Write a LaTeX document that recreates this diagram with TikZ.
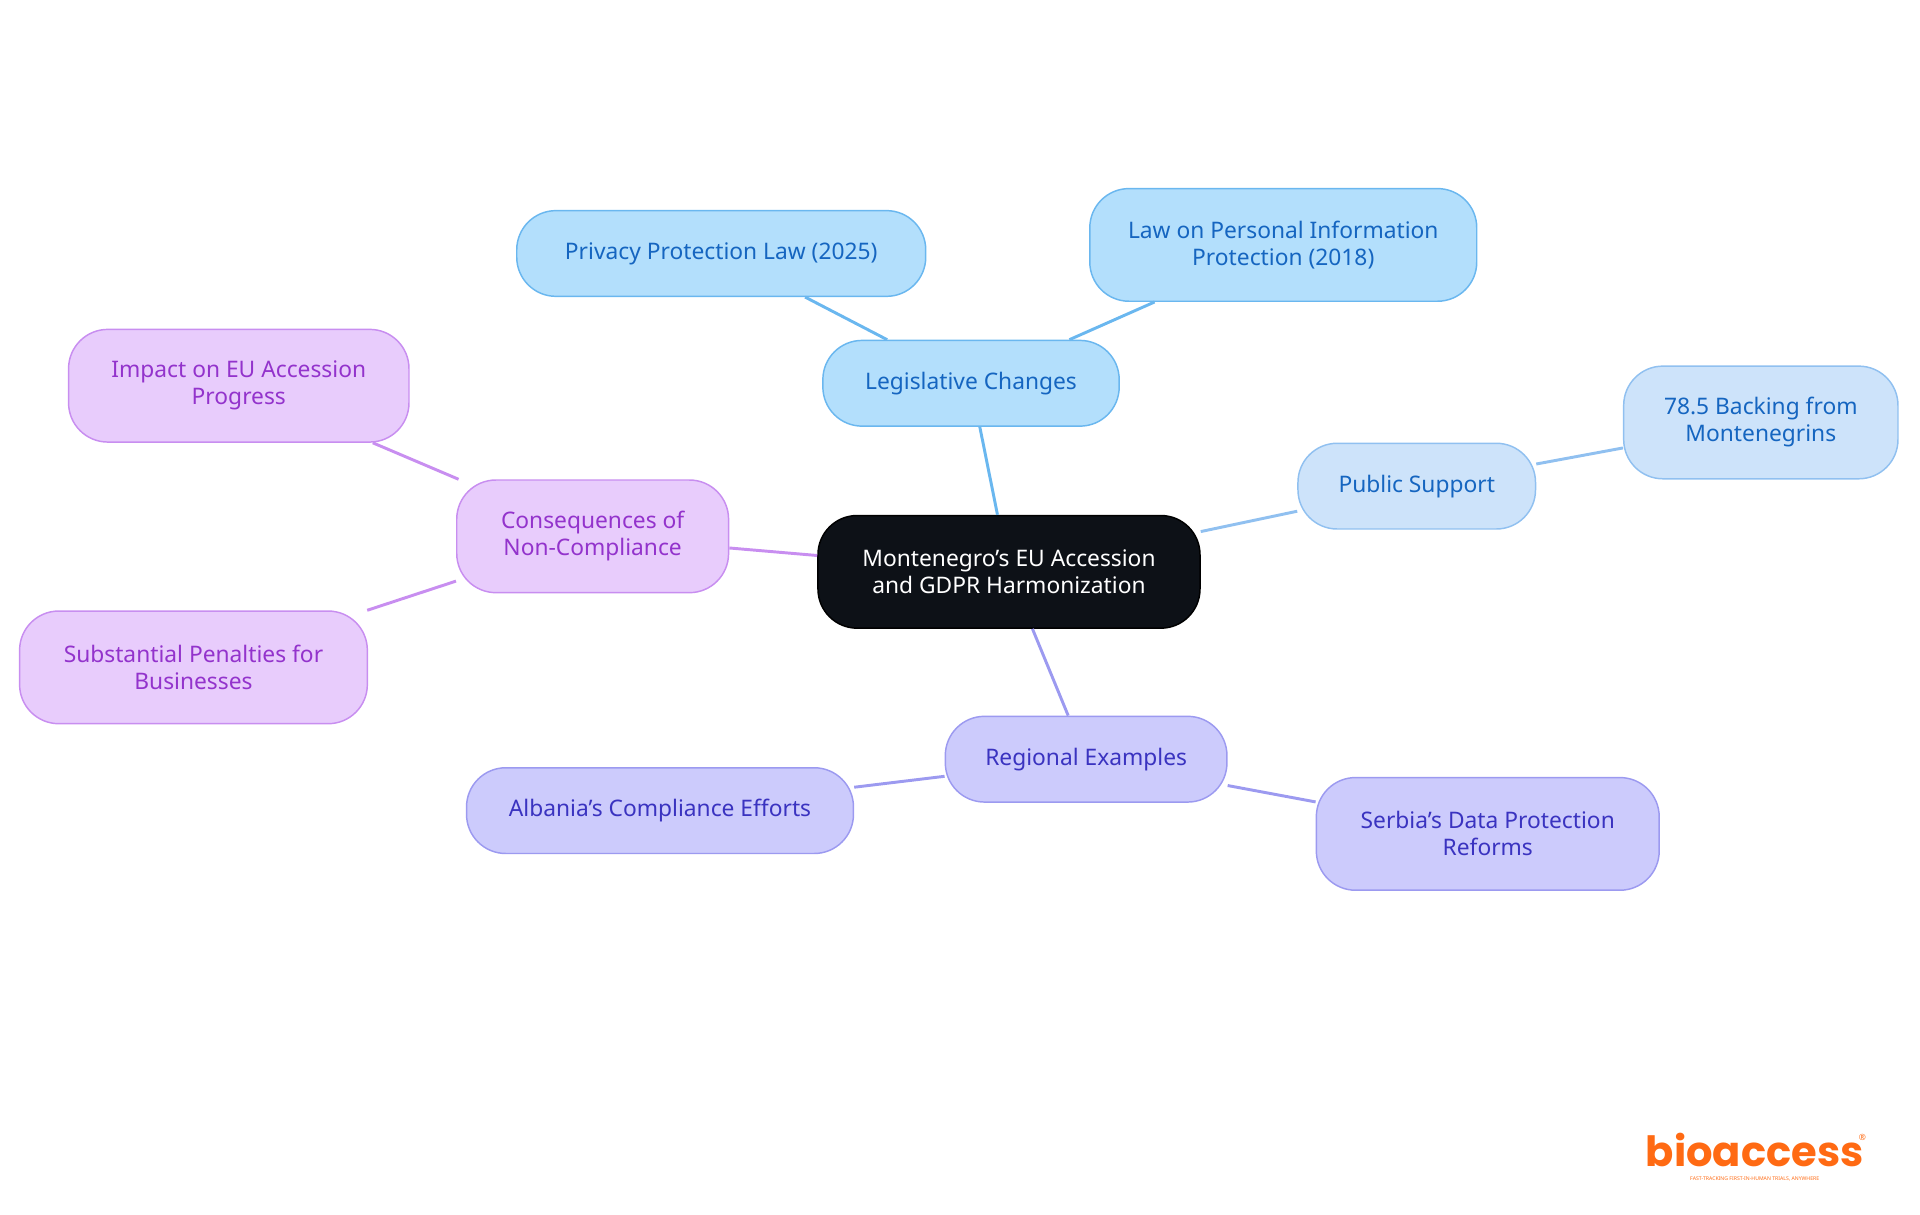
\documentclass[tikz,border=0pt]{standalone}
\usepackage{fontspec}
\setmainfont{Noto Sans}
\newfontfamily\logofont{Poppins}
\begin{document}
\begin{tikzpicture}[x=0.5pt,y=-0.5pt,
  box/.style={rounded corners=16pt,draw,line width=0.6pt,align=center,font=\fontsize{9.3}{11}\selectfont,inner sep=0pt},
  blue1/.style={box,fill=blueF,draw=blueD,text=blueT},
  blue2/.style={box,fill=lblueF,draw=lblueD,text=blueT},
  purp/.style={box,fill=purpF,draw=purpD,text=purpT},
  ind/.style={box,fill=indF,draw=indD,text=indT},
  ln/.style={line width=1.2pt}]
\definecolor{blueF}{HTML}{B3DFFC}\definecolor{blueD}{HTML}{6AB7EF}\definecolor{blueT}{HTML}{1565C0}
\definecolor{lblueF}{HTML}{CDE3FA}\definecolor{lblueD}{HTML}{90C0F0}
\definecolor{purpF}{HTML}{E8CCFC}\definecolor{purpD}{HTML}{C88EF0}\definecolor{purpT}{HTML}{9333CC}
\definecolor{indF}{HTML}{CCCBFC}\definecolor{indD}{HTML}{9C9AF0}\definecolor{indT}{HTML}{3A33C0}
\definecolor{orng}{HTML}{FF6A13}
\useasboundingbox (0,0) rectangle (1568,992);
\node[box,fill={rgb,255:red,13;green,17;blue,23},draw=black,text=white,minimum width=156pt,minimum height=46pt] (c) at (824,467) {Montenegro's EU Accession\\and GDPR Harmonization};
\node[blue1,minimum width=121pt,minimum height=35pt] (lc) at (793,313) {Legislative Changes};
\node[blue1,minimum width=167pt,minimum height=35pt] (pp) at (589,207) {Privacy Protection Law (2025)};
\node[blue1,minimum width=158pt,minimum height=46pt] (lp) at (1048,200) {Law on Personal Information\\Protection (2018)};
\node[blue2,minimum width=97pt,minimum height=35pt] (ps) at (1157,397) {Public Support};
\node[blue2,minimum width=112pt,minimum height=46pt] (bk) at (1438,345) {78.5 Backing from\\Montenegrins};
\node[purp,minimum width=111pt,minimum height=46pt] (cn) at (484,438) {Consequences of\\Non-Compliance};
\node[purp,minimum width=139pt,minimum height=46pt] (im) at (195,315) {Impact on EU Accession\\Progress};
\node[purp,minimum width=142pt,minimum height=46pt] (sp) at (158,545) {Substantial Penalties for\\Businesses};
\node[ind,minimum width=115pt,minimum height=35pt] (re) at (887,620) {Regional Examples};
\node[ind,minimum width=158pt,minimum height=35pt] (al) at (539,662) {Albania's Compliance Efforts};
\node[ind,minimum width=140pt,minimum height=46pt] (se) at (1215,681) {Serbia's Data Protection\\Reforms};
\draw[ln,blueD] (c) -- (lc); \draw[ln,blueD] (lc) -- (pp); \draw[ln,blueD] (lc) -- (lp);
\draw[ln,lblueD] (c) -- (ps); \draw[ln,lblueD] (ps) -- (bk);
\draw[ln,purpD] (c) -- (cn); \draw[ln,purpD] (cn) -- (im); \draw[ln,purpD] (cn) -- (sp);
\draw[ln,indD] (c) -- (re); \draw[ln,indD] (re) -- (al); \draw[ln,indD] (re) -- (se);
\node[text=orng,font=\logofont\bfseries\fontsize{17}{18}\selectfont,inner sep=0pt] (logo) at (1433,939) {bioaccess};
\node[text=orng,font=\fontsize{3.5}{4}\selectfont,inner sep=0pt] (reg) at (1521,929) {®};
\node[text=orng,font=\fontsize{2.1}{3}\selectfont,inner sep=0pt] (tag) at (1433,963) {FAST-TRACKING FIRST-IN-HUMAN TRIALS, ANYWHERE};
\end{tikzpicture}
\end{document}
